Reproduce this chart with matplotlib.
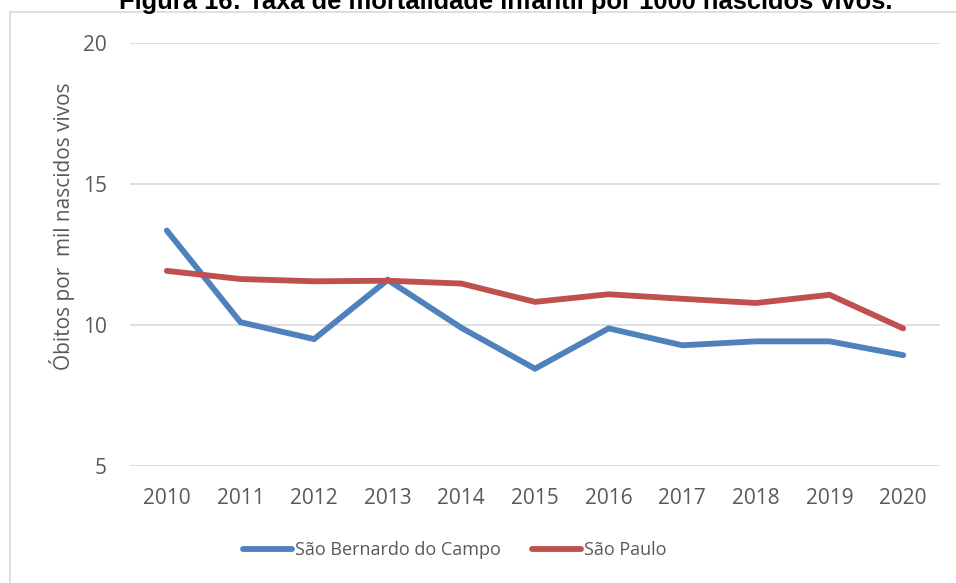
import numpy as np
import matplotlib
matplotlib.use("Agg")
import matplotlib.pyplot as plt
from matplotlib.lines import Line2D

# dados
anos = ["2010", "2011", "2012", "2013", "2014", "2015",
        "2016", "2017", "2018", "2019", "2020"]
sao_bernardo = [13.35, 10.1, 9.5, 11.6, 9.9, 8.45, 9.88, 9.28, 9.42, 9.42, 8.93]
sao_paulo = [11.92, 11.63, 11.55, 11.57, 11.47, 10.82, 11.09, 10.93, 10.78, 11.07, 9.88]

azul = "#4F81BD"
vermelho = "#C0504D"
cinza = "#595959"
fonte = "Open Sans"

fig = plt.figure(figsize=(9.56, 5.83), dpi=100)
ax = fig.add_axes([130/956, 1-466/583, 810/956, 423/583])

x = np.arange(len(anos))
ax.plot(x, sao_bernardo, color=azul, lw=4.2, solid_capstyle="round",
        solid_joinstyle="miter", label="São Bernardo do Campo")
ax.plot(x, sao_paulo, color=vermelho, lw=4.2, solid_capstyle="round",
        solid_joinstyle="miter", label="São Paulo")

ax.set_xlim(-0.5, len(anos)-0.5)
ax.set_ylim(5, 20)
ax.set_yticks([5, 10, 15, 20])
ax.set_xticks(x)
ax.set_xticklabels(anos)
ax.grid(axis="y", color="#D9D9D9", lw=1.2)
ax.set_axisbelow(True)
for s in ax.spines.values():
    s.set_visible(False)
ax.tick_params(length=0, colors=cinza, labelsize=15)
ax.tick_params(axis="x", pad=16)
ax.tick_params(axis="y", pad=16.5)
for lab in ax.get_xticklabels() + ax.get_yticklabels():
    lab.set_family(fonte)

fig.text(62/956, 1-226/583, "Óbitos por  mil nascidos vivos", rotation=90,
         ha="center", va="center", color=cinza, fontsize=15, family=fonte)

# titulo (cortado no topo como no original)
fig.text(506/956, 1-9/583,
         "Figura 16: Taxa de mortalidade infantil por 1000 nascidos vivos.",
         ha="center", va="baseline", fontsize=18.4, fontweight="bold",
         family="Liberation Sans", color="black")

# moldura do grafico
fig.add_artist(Line2D([10/956, 10/956], [0, 1-12/583], color="#D9D9D9", lw=1.2))
fig.add_artist(Line2D([10/956, 1], [1-12/583, 1-12/583], color="#D9D9D9", lw=1.2))

leg = fig.legend(loc="center", bbox_to_anchor=(455/956, 1-550/583), ncol=2,
                 frameon=False, handlelength=2.7, handletextpad=0.2,
                 columnspacing=1.7, prop={"family": fonte, "size": 13})
for t in leg.get_texts():
    t.set_color(cinza)

fig.savefig("out.png", dpi=100)
